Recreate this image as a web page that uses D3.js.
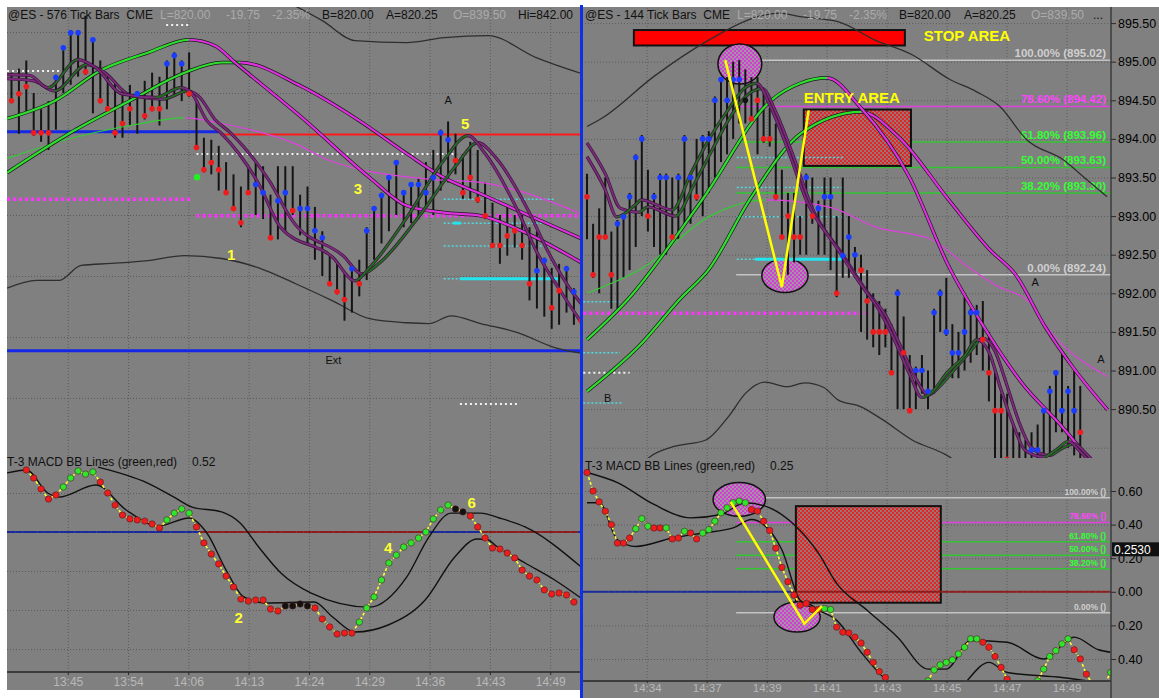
<!DOCTYPE html>
<html lang="en">
<head>
<meta charset="UTF-8"/>
<title>@ES tick bars</title>
<script src="https://d3js.org/d3.v7.min.js"></script>
<style>
  body { margin: 0; background: #fff; }
  svg text { font-family: "Liberation Sans", Arial, sans-serif; white-space: pre; }
</style>
</head>
<body>
<svg id="chart" width="1159" height="698"></svg>
<script>
// ---------------- data ----------------
const leftTimes = ["13:45","13:54","14:06","14:13","14:24","14:29","14:36","14:43","14:49"];
const leftTickIdx = [7.6,15.75,23.9,32.05,40.2,48.35,56.5,64.65,72.8];
const rightTimes = ["14:34","14:37","14:39","14:41","14:43","14:45","14:47","14:49"];
const rightTickIdx = [9.8,19.65,29.5,39.35,49.2,59.05,68.9,78.75];
const leftPriceGrid = [897.5,896,894.5,893,891.5,890,888.5];
const rightPriceTicks = [895.5,895,894.5,894,893.5,893,892.5,892,891.5,891,890.5];
const leftMacdGrid = [0.2,-0.2,-0.4,-0.6];
const rightMacdTicks = [0.6,0.4,0.2,0,-0.2,-0.4];

// bars: [high, low, close]
const leftBars = [
 [896.5,895.75,895.81],[896.6,895.0,895.98],[896.8,895.5,896.16],[896.0,894.95,895.02],[895.6,894.8,895.02],
 [895.8,894.6,895.02],[896.45,895.1,896.38],[897.15,896.0,897.11],[897.55,896.2,897.48],[897.55,896.4,897.48],
 [897.9,896.45,896.52],[897.35,895.5,897.31],[896.8,895.75,895.81],[896.4,895.55,895.61],[896.3,894.9,895.02],
 [896.1,894.9,895.25],[896.2,895.2,895.61],[896.05,895.0,895.98],[896.3,895.35,895.44],[896.5,895.55,895.61],
 [896.4,895.2,895.61],[896.8,895.6,896.72],[897.0,895.9,896.92],[896.8,895.8,896.72],[897.0,895.9,895.98],
 [895.8,894.6,894.66],[894.9,894.05,894.11],[894.85,894.0,894.29],[894.7,893.6,894.11],[894.3,893.5,893.55],
 [894.0,893.1,893.16],[893.7,892.7,892.81],[894.2,893.5,893.55],[894.3,893.0,893.75],[894.2,892.9,893.55],
 [893.5,892.4,892.44],[894.2,892.4,893.35],[894.2,892.6,893.55],[894.2,893.0,893.11],[893.5,892.5,893.16],
 [893.7,892.3,893.16],[893.2,891.9,892.61],[892.6,891.5,892.44],[892.0,891.25,891.31],[891.8,891.05,891.11],
 [891.6,890.4,890.92],[891.75,890.6,891.68],[891.9,891.0,891.31],[892.7,891.4,892.61],[893.2,891.9,893.16],
 [893.55,892.3,893.48],[894.0,892.6,893.92],[894.35,893.0,894.29],[893.6,892.7,893.55],[893.8,892.8,893.75],
 [893.9,892.9,893.75],[894.3,893.2,893.55],[894.6,893.0,893.92],[895.1,893.6,895.02],[895.3,893.8,894.85],
 [895.0,894.0,894.34],[894.5,893.4,893.55],[894.8,893.4,893.92],[894.6,893.3,893.38],[893.8,892.9,892.98],
 [893.3,892.2,892.25],[893.0,891.8,892.25],[893.2,892.0,892.49],[893.0,892.2,892.61],[893.0,891.9,892.25],
 [892.7,890.9,891.31],[892.6,890.7,891.63],[891.95,890.5,891.88],[891.7,890.2,890.72],[891.8,890.3,891.14],
 [891.75,890.6,891.68],[891.2,890.3,891.11],[891.3,890.2,890.40]
];
const leftDots = "rrrrrrbbbbrbrrrrrbrrrbbbrrrrrrrrrbbrbbrbbbbrrrbrbbbbbbbbbbbbrrrrrrrrrrrbbrrbbr";

const rightBars = [
 [893.55,892.7,893.25],[892.9,892.2,892.24],[893.1,892.0,892.73],[893.5,892.7,892.73],[892.8,891.8,892.24],
 [892.95,891.8,892.9],[893.0,892.2,892.99],[893.3,892.3,893.25],[893.8,892.6,893.76],[894.05,893.0,894.0],
 [893.6,892.8,893.0],[893.3,892.6,893.25],[893.55,892.5,893.5],[893.55,892.5,893.5],[893.5,892.7,892.73],
 [893.55,892.7,893.5],[894.05,892.9,894.0],[893.55,892.9,893.5],[894.0,893.2,893.25],[894.05,893.0,894.0],
 [894.1,893.3,894.0],[894.55,893.5,894.5],[894.8,893.7,894.77],[894.8,893.8,894.5],[895.0,894.0,894.77],
 [895.02,894.2,894.77],[894.9,894.2,894.5],[894.8,894.2,894.26],[894.8,893.8,894.5],[894.6,893.95,894.0],
 [894.4,893.9,894.0],[894.2,893.2,893.25],[893.6,892.7,892.73],[893.3,892.24,893.0],[893.3,892.4,892.73],
 [893.0,892.5,892.73],[893.55,892.5,893.5],[893.5,892.9,893.0],[893.2,892.5,893.1],[893.5,892.5,893.25],
 [893.5,892.3,893.25],[893.0,891.95,892.0],[893.5,892.2,892.49],[893.0,892.2,892.73],[892.6,892.2,892.5],
 [892.5,891.5,892.3],[892.3,891.4,891.9],[892.0,891.3,891.5],[891.9,891.2,891.5],[891.8,891.3,891.5],
 [891.6,890.95,890.97],[892.05,890.5,892.0],[891.7,890.5,891.23],[891.2,890.45,890.48],[891.05,890.5,891.0],
 [891.2,890.7,891.0],[891.0,890.5,890.73],[891.8,890.7,891.75],[892.05,891.5,892.0],[892.2,891.45,891.5],
 [891.6,890.9,891.23],[891.5,890.9,891.23],[891.95,891.0,891.5],[891.8,891.1,891.75],[891.85,891.2,891.75],
 [891.9,891.0,891.4],[891.5,890.6,890.97],[891.0,889.8,890.48],[890.7,889.8,890.48],[890.7,889.7,889.85],
 [890.3,889.7,889.8],[890.2,889.6,889.8],[890.1,889.6,889.8],[890.2,889.7,889.97],[890.3,889.7,889.97],
 [890.5,889.8,890.48],[890.8,889.9,890.73],[891.0,890.2,890.97],[891.25,890.2,890.48],[890.8,890.0,890.73],
 [891.0,889.9,890.48],[890.8,889.8,890.2]
];
const rightDots = "rrrrrbbbbbrbbbrbbbrbbbbbbbkrrrrrrrrrbrbbbrbbbrrrrrrbrrbbbbbbbbbbbrrrrrrrrbbbbbbbbr";

// moving averages: [bar index, price]
const leftFast1 = [[-0.6,896.45],[2.5,896.43],[4.9,896.13],[9,896.82],[11.4,896.62],[14.9,895.98],[19.4,895.89],
 [22.9,896.13],[24.4,895.98],[26.4,895.32],[28.4,895.0],[33.4,893.77],[36.4,892.69],[43.4,891.96],[46.4,891.38],
 [48.4,891.71],[53.4,892.93],[58.4,894.34],[61.7,894.95],[64,894.51],[68.4,893.11],[70.9,892.12],[74.4,891.07],[77,890.36]];
const leftFast2 = [[-0.6,896.35],[3,896.3],[5.8,896.05],[10.2,896.7],[12.6,896.5],[16,895.95],[20.5,895.85],
 [23.8,896.05],[25.4,895.9],[27.5,895.35],[29.6,895.02],[34.8,893.85],[38,892.85],[44.8,892.0],[47.4,891.55],
 [49.6,891.8],[54.8,892.9],[60,894.2],[63,894.78],[65.5,894.4],[70,893.05],[72.5,892.1],[75.8,891.1],[78,890.6]];
const leftSlow1 = [[-0.6,895.37],[5.9,895.81],[12,896.55],[18.4,896.99],[24,897.31],[27.5,897.16],[30.2,896.75],
 [39.4,895.37],[48.4,893.92],[53.4,893.23],[58.4,893.06],[63.4,892.98],[69.4,892.57],[77,891.83]];
const leftSlow2 = [[-0.6,894.04],[8.4,895.07],[16,895.81],[23.4,896.5],[28.4,896.75],[30.9,896.75],[39,896.18],
 [47,895.32],[53.4,894.51],[58.4,893.92],[63.4,893.52],[68.4,893.11],[77,892.42]];
const leftThin = [[-0.6,894.39],[8.4,894.9],[16,895.2],[23.4,895.39],[28.4,895.25],[38.4,894.75],[43,894.34],
 [55.9,893.89],[63.4,893.8],[68.4,893.6],[77,893.03]];
const leftBandUp = [[32.2,898.69],[37.7,898.2],[42,897.78],[46.4,897.29],[53.4,897.24],[58.5,897.36],[64.4,897.41],[70.9,896.87],[77,896.48]];
const leftBandLo = [[-0.6,891.2],[3.4,891.39],[6.4,891.39],[9.4,891.76],[13.5,891.81],[18.4,891.88],[23.4,892.0],
 [28.4,891.93],[33.4,891.7],[38.4,891.31],[43.4,890.89],[48.4,890.45],[53.4,890.35],[56.4,890.33],[59.4,890.52],
 [63.4,890.33],[68.4,890.11],[73.4,889.74],[77,889.6]];

const rightFast1 = [[0,893.77],[3,893.34],[4.9,892.99],[8,893.15],[8.9,893.21],[14,893.08],[17.1,893.56],[20,893.99],
 [23.2,894.38],[25.9,894.66],[27.9,894.72],[30,894.44],[33,893.86],[36,893.21],[41,892.59],[45,892.11],[47.9,891.79],
 [50.1,891.46],[53,890.95],[55,890.65],[57,890.75],[58.9,890.95],[62.1,891.2],[64,891.4],[66,891.24],[68,890.75],
 [70,890.3],[71.9,889.97],[75,889.88],[77,889.97],[79,890.08],[81,889.95],[82.9,889.78]];
const rightFast2 = [[0,893.95],[3,893.55],[5.5,893.1],[8.5,893.05],[10,893.12],[14.5,893.0],[17.5,893.4],[20.5,893.85],
 [23.5,894.28],[26.5,894.58],[28.8,894.65],[31,894.35],[34,893.75],[37,893.1],[42,892.5],[46,892.02],[49,891.72],
 [51,891.4],[54,890.9],[56,890.68],[58,890.8],[60,890.98],[63,891.25],[65,891.42],[67,891.25],[69,890.8],[71,890.32],
 [73,890.0],[76,889.9],[78,889.99],[80,890.05],[82,889.92],[84,889.75]];
const rightSlowA = [[0,891.4],[6.7,891.92],[18.9,893.21],[30.4,894.51],[35,894.72],[39.4,894.79],[45,894.4],
 [52.9,893.51],[59.4,892.35],[64.9,891.6],[71.6,890.82],[77.7,890.3],[82.6,889.84]];
const rightSlowB = [[0,890.73],[8.7,891.33],[15.2,891.92],[20,892.31],[26.7,893.21],[35.3,894.08],[45,894.35],
 [51.1,894.03],[59.4,893.21],[66.2,892.56],[70.4,892.24],[75.2,891.57],[80.1,891.01],[85.5,890.49]];
const rightThin = [[0,892.0],[9.4,892.34],[20.2,893.0],[29.4,893.21],[40.1,893.11],[47.3,892.86],[56.5,892.7],
 [62.6,892.34],[67.4,892.09],[72.3,891.91],[76.8,891.44],[85.5,890.92]];
const rightBandUp = [[0,894.16],[2.5,894.27],[11,894.81],[20,895.28],[27.9,895.58],[31.5,895.63],[35.3,895.58],
 [41.2,895.52],[47.3,895.28],[53.4,895.09],[59.6,894.77],[64,894.61],[67.8,894.42],[72.2,893.99],[78.2,893.73],
 [82.1,893.47],[85.4,893.25]];
const rightBandLo = [[8,889.7],[10.3,889.88],[14,890.01],[19.5,890.1],[23.2,890.4],[26.1,890.71],[29.2,890.85],
 [32.8,890.79],[35.8,890.84],[38.9,890.78],[41.2,890.62],[45,890.53],[48.6,890.36],[53.4,890.1],[58.9,889.91],[62,889.75]];

// MACD series (left starts at bar 2)
const leftMacdStart = 2;
const leftMacd = [0.318,0.277,0.221,0.169,0.19,0.231,0.277,0.313,0.297,0.308,
 0.256,0.2,0.138,0.087,0.067,0.062,0.056,0.041,0.021,0.062,
 0.097,0.118,0.097,0.026,-0.056,-0.113,-0.164,-0.226,-0.282,-0.344,
 -0.354,-0.349,-0.349,-0.395,-0.405,-0.379,-0.379,-0.369,-0.379,-0.39,
 -0.446,-0.487,-0.523,-0.518,-0.518,-0.462,-0.39,-0.333,-0.246,-0.159,
 -0.118,-0.077,-0.056,-0.031,0,0.067,0.113,0.138,0.118,0.103,
 0.082,0.026,-0.031,-0.082,-0.087,-0.108,-0.133,-0.195,-0.226,-0.246,
 -0.297,-0.318,-0.313,-0.323,-0.359];
const leftMacdDots = "rrrrrgggggrrrrrrrrrggggrrrrrrrrrrrrkkkkrrrrrrgggggggggggggkkrrrrrrrrrrrrrrr";
const leftMacdUpper = [[11.7,0.333],[18.4,0.251],[21.96,0.179],[24.4,0.128],[28.4,0.103],[30.9,0.046],[33.4,-0.077],
 [36.4,-0.21],[40.5,-0.313],[48.4,-0.385],[53.4,-0.231],[56.4,-0.026],[59.4,0.097],[63.4,0.097],[65.9,0.072],[69.4,0.026],[77,-0.18]];
const leftMacdLower = [[-0.6,0.303],[2,0.318],[4.9,0.2],[6.4,0.179],[11.4,0.241],[15.5,0.113],[19.9,0.031],[24,0.072],
 [26.4,-0.005],[29,-0.195],[31.4,-0.333],[34.4,-0.364],[40.9,-0.359],[43.4,-0.436],[46.4,-0.513],[50.9,-0.477],
 [55.9,-0.349],[59.9,-0.128],[62.9,-0.036],[64.4,-0.041],[65.5,-0.072],[69.4,-0.159],[73.4,-0.246],[77,-0.34]];

const rightMacd = [0.71,0.6,0.535,0.48,0.4,0.29,0.29,0.32,0.375,0.435,
 0.39,0.38,0.38,0.38,0.315,0.32,0.36,0.35,0.315,0.35,
 0.37,0.42,0.47,0.5,0.53,0.54,0.53,0.49,0.48,0.42,
 0.365,0.26,0.145,0.06,-0.02,-0.08,-0.07,-0.105,-0.105,-0.1,
 -0.105,-0.21,-0.24,-0.245,-0.27,-0.305,-0.36,-0.42,-0.475,-0.51,
 -0.56,-0.6,-0.62,-0.63,-0.62,-0.58,-0.53,-0.465,-0.435,-0.42,
 -0.405,-0.37,-0.33,-0.28,-0.28,-0.3,-0.33,-0.385,-0.45,-0.52,
 -0.57,-0.6,-0.61,-0.58,-0.53,-0.46,-0.385,-0.35,-0.31,-0.28,
 -0.345,-0.4,-0.49,-0.55,-0.58,-0.55,-0.48];
const rightMacdDots = "rrrrrrrrgggrrgrrgrrggggggggrrrrrrrrrrrrggrrrrrrrrrrrrrgggggggggggrrrrrrrrgggggggrrrrrgg";
const rightMacdUpper = [[0,0.71],[5,0.65],[11,0.52],[17,0.44],[22,0.46],[26,0.53],[30,0.5],[34,0.4],[38,0.23],[41,0.05],
 [46,-0.11],[51,-0.27],[56,-0.46],[59,-0.46],[63,-0.29],[69,-0.3],[75,-0.4],[80,-0.27],[84,-0.345],[86,-0.36]];
const rightMacdLower = [[0,0.53],[2,0.53],[5,0.31],[8,0.27],[14,0.32],[19,0.35],[24,0.38],[27,0.43],[29,0.4],[32,0.25],
 [35,-0.05],[38,-0.11],[41,-0.17],[45,-0.36],[49,-0.52],[54,-0.62],[60,-0.6],[66,-0.42],[69,-0.48],[78,-0.51],[86,-0.55]];
const rightMacdLast = 0.2530;

// horizontal marker levels: [price, from bar, to bar, kind]
const leftLevels = [
 [896.54,-0.6,6.6,"white"],[897.67,20.9,24.1,"white"],[895.05,-0.6,28.2,"blue"],[894.98,28.2,77,"red"],
 [894.5,25,59.9,"white"],[893.39,-0.6,24.4,"magenta"],[892.98,25,77,"magenta"],
 [893.39,58.4,73.4,"cyan"],[892.8,58.4,72.5,"cyan"],[892.8,59.7,60.7,"cyanSolid"],[892.24,58.4,73.4,"cyan"],
 [891.43,58.4,73.9,"cyan"],[891.43,60.6,73.9,"cyanSolid"],[889.66,-0.6,77.2,"blue"],[888.35,60.6,68.7,"white"]
];
const rightLevels = [
 [893.76,24.6,42,"cyan"],[893.37,24.6,42,"cyan"],[892.99,24.6,42,"cyan"],[892.44,24.6,42.2,"cyan"],
 [892.44,27.6,42.2,"cyanSolid"],[891.74,-0.6,46.1,"magenta"],[891.89,-0.6,5.4,"cyan"],[891.23,-0.6,5.4,"cyan"],
 [890.97,-0.6,7,"white"],[890.58,-0.6,5.7,"cyan"]
];
const rightFib = [["100.00% (895.02)",895.02,"gray"],["78.60% (894.42)",894.42,"magenta"],["61.80% (893.96)",893.96,"green"],
 ["50.00% (893.63)",893.63,"green"],["38.20% (893.30)",893.30,"green"],["0.00% (892.24)",892.24,"gray"]];
const macdFib = [["100.00% ()",0.56,"gray"],["78.60% ()",0.413,"magenta"],["61.80% ()",0.298,"green"],
 ["50.00% ()",0.2175,"green"],["38.20% ()",0.137,"green"],["0.00% ()",-0.125,"gray"]];
const fibStart = 24.5;

// annotations: [bar from, bar to, top, bottom]
const stopArea = [7.7,52.2,895.41,895.21];
const entryArea = [35.6,53.2,894.38,893.65];
const macdArea = [34.3,58.1,0.51,-0.065];
// ellipses: [bar, value, bar radius, value radius]
const priceRings = [[25.1,894.97,3.6,0.26],[32.5,892.23,3.8,0.22]];
const macdRings = [[25,0.55,4.3,0.1],[34.5,-0.15,3.8,0.09]];
const priceSwing = [[22.7,895.02],[32.0,892.08],[36.4,894.37]];
const macdSwing = [[23.6,0.535],[35.7,-0.19],[38.6,-0.085]];

// text notes: [text, bar, value, kind]
const leftNotes = [["1",29.7,892.02,"num"],["3",46.8,893.66,"num"],["5",61.3,895.26,"num"],["A",59,895.83,"mark"],["Ext",43.5,889.43,"mark"]];
const leftMacdNotes = [["2",30.7,-0.441,"num"],["4",50.9,-0.082,"num"],["6",62.2,0.149,"num"]];
const rightNotes = [["A",73.6,892.14,"mark"],["A",84.4,891.15,"mark"],["B",3.4,890.65,"mark"],
 ["STOP AREA",55.3,895.27,"big"],["ENTRY AREA",35.6,894.47,"big"]];
const leftGreenDot = [25.07,893.93];

const leftHeader = [["@ES - 576 Tick Bars  CME","d",8],["L=820.00","l",160],["-19.75","l",226],["-2.35%","l",272],
 ["B=820.00","d",322],["A=820.25","d",386],["O=839.50","l",453],["Hi=842.00","d",518]];
const rightHeader = [["@ES - 144 Tick Bars  CME","d",585],["L=820.00","l",737],["-19.75","l",803],["-2.35%","l",849],
 ["B=820.00","d",899],["A=820.25","d",964],["O=839.50","l",1031],["...","d",1093]];

// ---------------- drawing ----------------
const svg = d3.select('#chart');
const defs = svg.append('defs');

function clip(id, x, y, w, h) {
  defs.append('clipPath').attr('id', id).append('rect')
    .attr('x', x).attr('y', y).attr('width', w).attr('height', h);
}
clip('cLP', 7, 7, 574, 445);
clip('cLM', 7, 452, 574, 220);
clip('cRP', 583, 7, 528, 451);
clip('cRM', 583, 458, 528, 223);
clip('cLH', 7, 0, 573, 30);

function checker(id, c1, c2) {
  const p = defs.append('pattern').attr('id', id).attr('patternUnits', 'userSpaceOnUse')
    .attr('width', 4).attr('height', 4);
  p.append('rect').attr('width', 4).attr('height', 4).attr('fill', c2);
  p.append('rect').attr('width', 2).attr('height', 2).attr('fill', c1);
  p.append('rect').attr('x', 2).attr('y', 2).attr('width', 2).attr('height', 2).attr('fill', c1);
}
checker('redcheck', '#e02626', '#9c7272');
checker('pinkcheck', '#d040d0', '#a890a8');

const xL = d3.scaleLinear().domain([0, 77]).range([11.5, 581.3]);
const yL = d3.scaleLinear().domain([896, 890]).range([93, 337]);
const yLM = d3.scaleLinear().domain([0.2, -0.6]).range([493, 649]);
const xR = d3.scaleLinear().domain([0, 86]).range([587, 1110.7]);
const yR = d3.scaleLinear().domain([895, 890.5]).range([61.7, 409.1]);
const yRM = d3.scaleLinear().domain([0.6, -0.4]).range([491, 659]);

const dotColor = { b: '#1a3cff', r: '#ee1c1c', k: '#111', g: '#2ee62e' };
const fmt2 = d3.format('.2f');

// backgrounds
svg.append('rect').attr('width', 1159).attr('height', 698).attr('fill', '#fff');
svg.append('rect').attr('x', 7).attr('y', 7).attr('width', 574).attr('height', 683).attr('fill', '#808080');
svg.append('rect').attr('x', 583).attr('y', 7).attr('width', 576).attr('height', 691).attr('fill', '#808080');

function gridify(g) {
  g.select('.domain').remove();
  g.selectAll('text').remove();
  g.selectAll('line').attr('stroke', '#5c5c5c').attr('stroke-dasharray', '1,2');
}

// grids
svg.append('g').attr('transform', 'translate(0,672)')
  .call(d3.axisBottom(xL).tickValues(leftTickIdx).tickSize(-665)).call(gridify);
svg.append('g').attr('transform', 'translate(7,0)')
  .call(d3.axisLeft(yL).tickValues(leftPriceGrid).tickSize(-574)).call(gridify);
svg.append('g').attr('transform', 'translate(7,0)')
  .call(d3.axisLeft(yLM).tickValues(leftMacdGrid).tickSize(-574)).call(gridify);
svg.append('g').attr('transform', 'translate(0,681)')
  .call(d3.axisBottom(xR).tickValues(rightTickIdx).tickSize(-674)).call(gridify);
svg.append('g').attr('transform', 'translate(1111,0)')
  .call(d3.axisRight(yR).tickValues(rightPriceTicks.concat([890])).tickSize(-528)).call(gridify);
svg.append('g').attr('transform', 'translate(1111,0)')
  .call(d3.axisRight(yRM).tickValues(rightMacdTicks.filter(d => d !== 0)).tickSize(-528)).call(gridify);

// helpers
function curve(g, pts, x, y, color, width) {
  const line = d3.line().x(d => x(d[0])).y(d => y(d[1])).curve(d3.curveMonotoneX);
  return g.append('path').attr('d', line(pts)).attr('fill', 'none')
    .attr('stroke', color).attr('stroke-width', width);
}
let gradN = 0;
function maLine(g, pts, x, y, up, down, width, outline) {
  const id = 'ma' + (gradN++);
  const x0 = x(pts[0][0]), x1 = x(pts[pts.length - 1][0]);
  const grad = defs.append('linearGradient').attr('id', id).attr('gradientUnits', 'userSpaceOnUse')
    .attr('x1', x0).attr('x2', x1).attr('y1', 0).attr('y2', 0);
  for (let k = 1; k < pts.length; k++) {
    const c = pts[k][1] >= pts[k - 1][1] ? up : down;
    grad.append('stop').attr('offset', (x(pts[k - 1][0]) - x0) / (x1 - x0)).attr('stop-color', c);
    grad.append('stop').attr('offset', (x(pts[k][0]) - x0) / (x1 - x0)).attr('stop-color', c);
  }
  if (outline) curve(g, pts, x, y, outline, width + 1.4);
  curve(g, pts, x, y, `url(#${id})`, width);
}
const levelStyle = {
  white: ['#f2f2f2', 2, '2,3'], blue: ['#1428e6', 3, null], red: ['#ff1a1a', 2, null],
  magenta: ['#ff33ff', 3.5, '3,3'], cyan: ['#4fd9e0', 1.5, '2,2'], cyanSolid: ['#22e5ee', 3, null]
};
function levels(g, rows, x, y) {
  rows.forEach(r => {
    const s = levelStyle[r[3]];
    g.append('line').attr('x1', x(r[1])).attr('x2', x(r[2])).attr('y1', y(r[0])).attr('y2', y(r[0]))
      .attr('stroke', s[0]).attr('stroke-width', s[1]).attr('stroke-dasharray', s[2]);
  });
}
function bars(g, data, x, y) {
  g.selectAll(null).data(data).join('line')
    .attr('x1', (d, i) => x(i)).attr('x2', (d, i) => x(i))
    .attr('y1', d => y(d[0])).attr('y2', d => y(d[1]))
    .attr('stroke', '#141414').attr('stroke-width', 2);
}
function barDots(g, data, codes, x, y) {
  g.selectAll(null).data(data).join('circle')
    .attr('cx', (d, i) => x(i)).attr('cy', d => y(d[2])).attr('r', 2.8)
    .attr('fill', (d, i) => dotColor[codes[i]]);
}
const noteStyle = {
  num: ['#ffff33', 15, 'bold'], mark: ['#111', 11, 'normal'], big: ['#ffff00', 15, 'bold']
};
function notes(g, rows, x, y) {
  rows.forEach(r => {
    const s = noteStyle[r[3]];
    g.append('text').attr('x', x(r[1])).attr('y', y(r[2]))
      .attr('text-anchor', r[3] === 'big' ? 'start' : 'middle')
      .attr('dominant-baseline', r[3] === 'big' ? 'auto' : 'central')
      .attr('fill', s[0]).attr('font-size', s[1]).attr('font-weight', s[2]).text(r[0]);
  });
}
function macdSeries(g, vals, start, codes, x, y) {
  const pts = vals.map((v, i) => [i + start, v]);
  g.append('path').attr('d', d3.line().x(d => x(d[0])).y(d => y(d[1]))(pts))
    .attr('fill', 'none').attr('stroke', '#ffff30').attr('stroke-width', 1.6).attr('stroke-dasharray', '3,2');
  g.selectAll(null).data(pts).join('circle')
    .attr('cx', d => x(d[0])).attr('cy', d => y(d[1])).attr('r', 3.2)
    .attr('fill', (d, i) => dotColor[codes[i]]).attr('stroke', '#4a2020').attr('stroke-width', 0.6);
}
function zeroLine(g, vals, start, x, y, lastIdx) {
  for (let i = 0; i <= lastIdx; i++) {
    const v = vals[Math.max(0, i - start)] ?? 0;
    const a = i === 0 ? x.range()[0] - 10 : x(i - 0.5);
    const b = i === lastIdx ? x(lastIdx) + 10 : x(i + 0.5);
    g.append('line').attr('x1', a).attr('x2', b).attr('y1', y(0)).attr('y2', y(0))
      .attr('stroke', v >= 0 ? '#1a2a9a' : '#8e1c1c').attr('stroke-width', 2);
  }
}
function fibLines(g, rows, x, y, xEnd, labelSize) {
  const col = { gray: ['#c4c4c4', '#cfcfcf'], magenta: ['#e040e0', '#ff44ff'], green: ['#33c433', '#33ff33'] };
  rows.forEach(r => {
    g.append('line').attr('x1', x(fibStart)).attr('x2', xEnd).attr('y1', y(r[1])).attr('y2', y(r[1]))
      .attr('stroke', col[r[2]][0]).attr('stroke-width', 1.5);
    g.append('text').attr('x', xEnd - 5).attr('y', y(r[1]) - 3).attr('text-anchor', 'end')
      .attr('font-size', labelSize).attr('font-weight', 'bold').attr('fill', col[r[2]][1]).text(r[0]);
  });
}
function box(g, b, x, y, fill) {
  g.append('rect').attr('x', x(b[0])).attr('y', y(b[2])).attr('width', x(b[1]) - x(b[0]))
    .attr('height', y(b[3]) - y(b[2])).attr('fill', fill).attr('stroke', '#111').attr('stroke-width', 2);
}
function rings(g, rows, x, y) {
  rows.forEach(r => {
    g.append('ellipse').attr('cx', x(r[0])).attr('cy', y(r[1]))
      .attr('rx', x(r[0] + r[2]) - x(r[0])).attr('ry', y(r[1] - r[3]) - y(r[1]))
      .attr('fill', 'url(#pinkcheck)').attr('stroke', '#111').attr('stroke-width', 1.5);
  });
}
function swing(g, pts, x, y) {
  g.append('path').attr('d', d3.line().x(d => x(d[0])).y(d => y(d[1]))(pts))
    .attr('fill', 'none').attr('stroke', '#ffff00').attr('stroke-width', 2.5);
}

// ----- left price pane -----
const gLP = svg.append('g').attr('clip-path', 'url(#cLP)');
levels(gLP, leftLevels, xL, yL);
curve(gLP, leftBandUp, xL, yL, '#2e2e2e', 1.3);
curve(gLP, leftBandLo, xL, yL, '#2e2e2e', 1.3);
bars(gLP, leftBars, xL, yL);
maLine(gLP, leftThin, xL, yL, '#33cc33', '#e040e0', 1.2, null);
maLine(gLP, leftSlow2, xL, yL, '#2ee02e', '#e030e0', 2.2, '#1a1a1a');
maLine(gLP, leftSlow1, xL, yL, '#2ee02e', '#e030e0', 2.2, '#1a1a1a');
maLine(gLP, leftFast2, xL, yL, '#1f6f1f', '#7d2a7d', 1.8, '#3a153a');
maLine(gLP, leftFast1, xL, yL, '#1f6f1f', '#7d2a7d', 1.8, '#3a153a');
barDots(gLP, leftBars, leftDots, xL, yL);
gLP.append('circle').attr('cx', xL(leftGreenDot[0])).attr('cy', yL(leftGreenDot[1])).attr('r', 3.2).attr('fill', '#22f022');
notes(gLP, leftNotes, xL, yL);

// ----- left MACD pane -----
const gLM = svg.append('g').attr('clip-path', 'url(#cLM)');
zeroLine(gLM, leftMacd, leftMacdStart, xL, yLM, 77);
curve(gLM, leftMacdUpper, xL, yLM, '#111', 1.4);
curve(gLM, leftMacdLower, xL, yLM, '#111', 1.4);
macdSeries(gLM, leftMacd, leftMacdStart, leftMacdDots, xL, yLM);
notes(gLM, leftMacdNotes, xL, yLM);

// ----- right price pane -----
const gRP = svg.append('g').attr('clip-path', 'url(#cRP)');
fibLines(gRP, rightFib, xR, yR, 1111, 11.5);
box(gRP, stopArea, xR, yR, '#ff0000');
box(gRP, entryArea, xR, yR, 'url(#redcheck)');
rings(gRP, priceRings, xR, yR);
levels(gRP, rightLevels, xR, yR);
curve(gRP, rightBandUp, xR, yR, '#2e2e2e', 1.3);
curve(gRP, rightBandLo, xR, yR, '#2e2e2e', 1.3);
bars(gRP, rightBars, xR, yR);
maLine(gRP, rightThin, xR, yR, '#33cc33', '#e040e0', 1.2, null);
maLine(gRP, rightSlowB, xR, yR, '#2ee02e', '#e030e0', 2.2, '#1a1a1a');
maLine(gRP, rightSlowA, xR, yR, '#2ee02e', '#e030e0', 2.2, '#1a1a1a');
maLine(gRP, rightFast2, xR, yR, '#1f6f1f', '#7d2a7d', 1.8, '#3a153a');
maLine(gRP, rightFast1, xR, yR, '#1f6f1f', '#7d2a7d', 1.8, '#3a153a');
barDots(gRP, rightBars, rightDots, xR, yR);
swing(gRP, priceSwing, xR, yR);
notes(gRP, rightNotes, xR, yR);

// ----- right MACD pane -----
const gRM = svg.append('g').attr('clip-path', 'url(#cRM)');
fibLines(gRM, macdFib, xR, yRM, 1111, 8.5);
box(gRM, macdArea, xR, yRM, 'url(#redcheck)');
rings(gRM, macdRings, xR, yRM);
zeroLine(gRM, rightMacd, 0, xR, yRM, 86);
curve(gRM, rightMacdUpper, xR, yRM, '#111', 1.4);
curve(gRM, rightMacdLower, xR, yRM, '#111', 1.4);
macdSeries(gRM, rightMacd, 0, rightMacdDots, xR, yRM);
swing(gRM, macdSwing, xR, yRM);

// ----- axes -----
function styleAxis(g, color, size) {
  g.attr('font-family', '"Liberation Sans", Arial, sans-serif').attr('font-size', size);
  g.select('.domain').remove();
  g.selectAll('line').attr('stroke', '#2a2a2a');
  g.selectAll('text').attr('fill', color);
}
svg.append('line').attr('x1', 7).attr('x2', 581).attr('y1', 672).attr('y2', 672).attr('stroke', '#3c3c3c').attr('stroke-width', 2);
svg.append('line').attr('x1', 583).attr('x2', 1111).attr('y1', 681).attr('y2', 681).attr('stroke', '#3c3c3c').attr('stroke-width', 2);
svg.append('line').attr('x1', 1111).attr('x2', 1111).attr('y1', 7).attr('y2', 698).attr('stroke', '#3c3c3c').attr('stroke-width', 1.5);

svg.append('g').attr('transform', 'translate(0,672)')
  .call(d3.axisBottom(xL).tickValues(leftTickIdx).tickFormat((d, i) => leftTimes[i]).tickSize(3).tickPadding(2))
  .call(g => styleAxis(g, '#b8b8b8', 12));
svg.append('g').attr('transform', 'translate(0,681)')
  .call(d3.axisBottom(xR).tickValues(rightTickIdx).tickFormat((d, i) => rightTimes[i]).tickSize(2).tickPadding(1))
  .call(g => styleAxis(g, '#b8b8b8', 11.5));
svg.append('g').attr('transform', 'translate(1111,0)')
  .call(d3.axisRight(yR).tickValues(rightPriceTicks).tickFormat(fmt2).tickSize(5).tickPadding(2))
  .call(g => styleAxis(g, '#000', 12.5));
svg.append('g').attr('transform', 'translate(1111,0)')
  .call(d3.axisRight(yRM).tickValues(rightMacdTicks).tickFormat(d => fmt2(Math.abs(d))).tickSize(5).tickPadding(2))
  .call(g => styleAxis(g, '#000', 12.5));

// current MACD value box
svg.append('rect').attr('x', 1112).attr('y', yRM(rightMacdLast) - 7).attr('width', 47).attr('height', 14).attr('fill', '#111');
svg.append('text').attr('x', 1114).attr('y', yRM(rightMacdLast) + 4.5).attr('fill', '#fff')
  .attr('font-size', 12).text(d3.format('.4f')(rightMacdLast));

// separator between the two charts
svg.append('rect').attr('x', 580).attr('y', 5).attr('width', 3).attr('height', 693).attr('fill', '#1030e8');

// headers
const hdrColor = { d: '#111', l: '#ababab' };
const gLH = svg.append('g').attr('clip-path', 'url(#cLH)');
leftHeader.forEach(h => gLH.append('text').attr('x', h[2]).attr('y', 19).attr('font-size', 12)
  .attr('fill', hdrColor[h[1]]).text(h[0]));
rightHeader.forEach(h => svg.append('text').attr('x', h[2]).attr('y', 19).attr('font-size', 12)
  .attr('fill', hdrColor[h[1]]).text(h[0]));

svg.append('text').attr('x', 7).attr('y', 466).attr('font-size', 12).attr('fill', '#111').text('T-3 MACD BB Lines (green,red)');
svg.append('text').attr('x', 192).attr('y', 466).attr('font-size', 12).attr('fill', '#111').text('0.52');
svg.append('text').attr('x', 585).attr('y', 470).attr('font-size', 12).attr('fill', '#111').text('T-3 MACD BB Lines (green,red)');
svg.append('text').attr('x', 770).attr('y', 470).attr('font-size', 12).attr('fill', '#111').text('0.25');
</script>
</body>
</html>
